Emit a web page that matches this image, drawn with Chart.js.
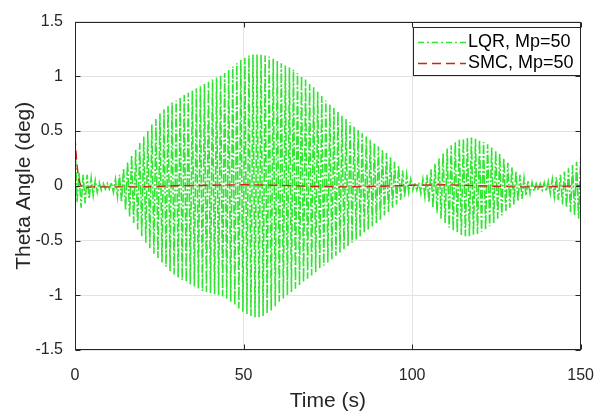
<!DOCTYPE html>
<html>
<head>
<meta charset="utf-8">
<script src="https://cdn.jsdelivr.net/npm/chart.js@4.4.1/dist/chart.umd.min.js"></script>
<style>
  html, body { margin: 0; padding: 0; background: #fff; }
  #wrap { width: 610px; height: 414px; }
</style>
</head>
<body>
<div id="wrap"><canvas id="thetaChart" width="610" height="414"></canvas></div>
<script>
// LQR response: positive peaks every 1.2 s starting at t = 0,
// negative peaks every 1.2 s starting at t = 0.6
const lqrStep = 1.2;
const lqrUpper = [
  0.40, 0.12, 0.10, 0.10, 0.07, 0.05, 0.03, 0.02, 0.02, 0.03,
  0.06, 0.10, 0.16, 0.22, 0.28, 0.33, 0.39, 0.45, 0.50, 0.56,
  0.61, 0.66, 0.70, 0.73, 0.76, 0.78, 0.81, 0.83, 0.85, 0.87,
  0.89, 0.91, 0.93, 0.95, 0.97, 0.99, 1.01, 1.03, 1.06, 1.09,
  1.12, 1.15, 1.17, 1.19, 1.20, 1.20, 1.20, 1.19, 1.18, 1.16,
  1.14, 1.12, 1.10, 1.08, 1.06, 1.03, 1.00, 0.97, 0.93, 0.90,
  0.86, 0.82, 0.78, 0.74, 0.71, 0.68, 0.64, 0.61, 0.58, 0.54,
  0.51, 0.48, 0.45, 0.42, 0.39, 0.36, 0.33, 0.30, 0.26, 0.22,
  0.18, 0.14, 0.10, 0.06, 0.03, 0.03, 0.06, 0.10, 0.15, 0.20,
  0.25, 0.30, 0.34, 0.37, 0.40, 0.42, 0.43, 0.44, 0.44, 0.43,
  0.42, 0.40, 0.38, 0.35, 0.32, 0.29, 0.25, 0.21, 0.17, 0.13,
  0.10, 0.07, 0.05, 0.03, 0.02, 0.02, 0.03, 0.04, 0.06, 0.08,
  0.10, 0.13, 0.16, 0.19, 0.22, 0.25
];
const lqrLower = [
  -0.15, -0.20, -0.16, -0.12, -0.09, -0.06, -0.04, -0.03, -0.03, -0.06,
  -0.10, -0.15, -0.22, -0.28, -0.34, -0.40, -0.46, -0.52, -0.57, -0.62,
  -0.66, -0.70, -0.74, -0.78, -0.81, -0.84, -0.86, -0.88, -0.90, -0.92,
  -0.94, -0.96, -0.97, -0.98, -0.99, -1.00, -1.01, -1.03, -1.06, -1.09,
  -1.12, -1.15, -1.17, -1.19, -1.20, -1.20, -1.19, -1.17, -1.14, -1.10,
  -1.06, -1.03, -1.00, -0.97, -0.94, -0.91, -0.88, -0.85, -0.82, -0.79,
  -0.76, -0.73, -0.70, -0.67, -0.64, -0.61, -0.58, -0.55, -0.52, -0.49,
  -0.46, -0.43, -0.40, -0.37, -0.34, -0.31, -0.27, -0.24, -0.20, -0.17,
  -0.13, -0.10, -0.06, -0.04, -0.04, -0.07, -0.10, -0.15, -0.20, -0.25,
  -0.30, -0.34, -0.38, -0.41, -0.43, -0.45, -0.46, -0.46, -0.45, -0.44,
  -0.42, -0.40, -0.37, -0.34, -0.30, -0.27, -0.23, -0.20, -0.17, -0.14,
  -0.12, -0.09, -0.07, -0.05, -0.04, -0.04, -0.05, -0.07, -0.10, -0.13,
  -0.17, -0.20, -0.24, -0.27, -0.30
];

// SMC response
const smcTime  = [0, 0.5, 1, 1.5, 2, 3, 5, 8, 12, 20, 30, 40, 50, 60, 70, 80, 90, 100, 110, 120, 130, 140, 150];
const smcTheta = [0.45, 0.22, 0.08, 0.02, -0.01, -0.02, -0.01, -0.01, -0.01, -0.01, 0, 0.005, 0.01, 0.005, -0.005, -0.01, -0.005, 0.005, 0.01, 0, -0.01, -0.01, 0];

const seriesNames = ['LQR, Mp=50', 'SMC, Mp=50'];
const xTicks = [0, 50, 100, 150];
const xTickLabels = ['0', '50', '100', '150'];
const yTicks = [-1.5, -1, -0.5, 0, 0.5, 1, 1.5];
const yTickLabels = ['-1.5', '-1', '-0.5', '0', '0.5', '1', '1.5'];

const axisColor = '#262626';
const gridColor = '#e3e3e3';
const fontFamily = '"Liberation Sans", Arial, Helvetica, sans-serif';
const lqrColor = 'rgb(50,228,50)';
const smcColor = 'rgb(210,35,25)';
const lqrDash = [9, 2, 2, 2];
const smcDash = [9, 5];

// interleave the peaks into one time series
const lqrPoints = [];
for (let k = 0; k < lqrUpper.length; k++) {
  lqrPoints.push({ x: k * lqrStep, y: lqrUpper[k] });
  if (k < lqrLower.length) lqrPoints.push({ x: k * lqrStep + lqrStep / 2, y: lqrLower[k] });
}
const smcPoints = smcTime.map((t, i) => ({ x: t, y: smcTheta[i] }));

// box, inward ticks and legend drawn on top of the plot
const matlabAxes = {
  id: 'matlabAxes',
  afterDraw(chart) {
    const { ctx, chartArea: a, scales } = chart;
    ctx.save();
    ctx.strokeStyle = axisColor;
    ctx.lineWidth = 1;
    const L = Math.round(a.left) + 0.5, R = Math.round(a.right) - 0.5;
    const T = Math.round(a.top) + 0.5, B = Math.round(a.bottom) - 0.5;
    ctx.beginPath();
    xTicks.forEach(v => {
      const px = Math.round(scales.x.getPixelForValue(v)) + 0.5;
      ctx.moveTo(px, B); ctx.lineTo(px, B - 5);
      ctx.moveTo(px, T); ctx.lineTo(px, T + 5);
    });
    yTicks.forEach(v => {
      const py = Math.round(scales.y.getPixelForValue(v)) + 0.5;
      ctx.moveTo(L, py); ctx.lineTo(L + 5, py);
      ctx.moveTo(R, py); ctx.lineTo(R - 5, py);
    });
    ctx.stroke();
    ctx.strokeRect(L, T, R - L, B - T);

    // legend
    const bx = 413.5, by = 27.5, bw = 167, bh = 48;
    ctx.fillStyle = '#fff';
    ctx.fillRect(bx, by, bw, bh);
    ctx.strokeStyle = axisColor;
    ctx.strokeRect(bx, by, bw, bh);
    const rows = [
      { y: 42, color: lqrColor, dash: [6, 3, 2, 3], width: 1.4 },
      { y: 63, color: smcColor, dash: smcDash, width: 1.4 }
    ];
    ctx.font = '18px ' + fontFamily;
    ctx.textBaseline = 'middle';
    rows.forEach((r, i) => {
      ctx.beginPath();
      ctx.setLineDash(r.dash);
      ctx.strokeStyle = r.color;
      ctx.lineWidth = r.width;
      ctx.moveTo(418, r.y + 0.5);
      ctx.lineTo(466, r.y + 0.5);
      ctx.stroke();
      ctx.setLineDash([]);
      ctx.fillStyle = '#000';
      ctx.fillText(seriesNames[i], 468, r.y);
    });
    ctx.restore();
  }
};

new Chart(document.getElementById('thetaChart'), {
  type: 'line',
  data: {
    datasets: [
      {
        label: seriesNames[0],
        data: lqrPoints,
        borderColor: lqrColor,
        borderWidth: 1.6,
        borderDash: lqrDash,
        pointRadius: 0,
        tension: 0,
        order: 2
      },
      {
        label: seriesNames[1],
        data: smcPoints,
        borderColor: smcColor,
        borderWidth: 1.4,
        borderDash: smcDash,
        pointRadius: 0,
        tension: 0,
        order: 1
      }
    ]
  },
  options: {
    responsive: false,
    animation: false,
    layout: { padding: { top: 14, right: 17, left: 0, bottom: 0 } },
    plugins: { legend: { display: false }, tooltip: { enabled: false } },
    scales: {
      x: {
        type: 'linear',
        min: 0,
        max: 150,
        afterFit: s => { s.height = 64; },
        afterBuildTicks: s => { s.ticks = xTicks.map(v => ({ value: v })); },
        ticks: {
          padding: 16,
          color: axisColor,
          font: { family: fontFamily, size: 16 },
          maxRotation: 0,
          callback: v => xTickLabels[xTicks.indexOf(v)]
        },
        grid: { color: gridColor, drawTicks: false },
        border: { display: false },
        title: {
          display: true,
          text: 'Time (s)',
          color: axisColor,
          font: { family: fontFamily, size: 21 },
          padding: { top: 1, bottom: 0 }
        }
      },
      y: {
        type: 'linear',
        min: -1.5,
        max: 1.5,
        afterFit: s => { s.width = 75; },
        afterBuildTicks: s => { s.ticks = yTicks.map(v => ({ value: v })); },
        ticks: {
          padding: 12,
          color: axisColor,
          font: { family: fontFamily, size: 16 },
          callback: v => yTickLabels[yTicks.indexOf(v)]
        },
        grid: { color: gridColor, drawTicks: false },
        border: { display: false },
        title: {
          display: true,
          text: 'Theta Angle (deg)',
          color: axisColor,
          font: { family: fontFamily, size: 21 },
          padding: { top: 12, bottom: 0 }
        }
      }
    }
  },
  plugins: [matlabAxes]
});
</script>
</body>
</html>
